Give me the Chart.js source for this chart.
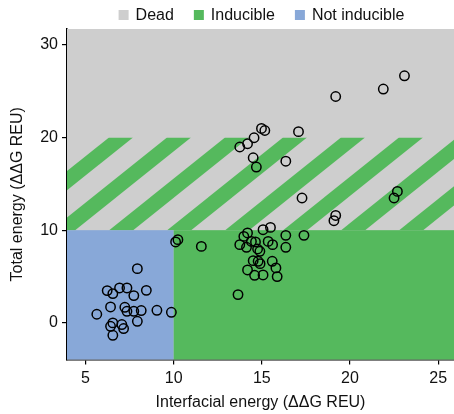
<!DOCTYPE html>
<html>
<head>
<meta charset="utf-8">
<script src="https://cdn.jsdelivr.net/npm/chart.js@4.4.0/dist/chart.umd.min.js"></script>
<style>
  html, body { margin: 0; padding: 0; background: #fff; }
  #wrap { width: 454px; height: 414px; }
</style>
</head>
<body>
<div id="wrap"><canvas id="energyChart" width="454" height="414"></canvas></div>
<script>
// designs with low total energy and low interfacial energy
var lowInterfacial = [7.94, 6.23, 6.55, 6.93, 7.35, 7.74, 8.45, 6.42, 5.64, 7.23, 7.35,
                      7.74, 8.16, 9.05, 9.87, 6.55, 6.42, 7.06, 7.16, 7.94, 6.55];
var lowTotal       = [5.85, 3.48, 3.16, 3.77, 3.77, 2.94, 3.51, 1.72, 0.93, 1.68, 1.25,
                      1.25, 1.33, 1.36, 1.14, 0.00, -0.37, -0.18, -0.61, 0.17, -1.34];

// designs with total energy under ~10 but higher interfacial energy
var midInterfacial = [15.07, 15.49, 14.19, 13.98, 16.36, 17.39, 13.75, 14.13, 14.41, 14.64,
                      14.76, 14.89, 15.36, 15.61, 16.36, 14.51, 14.79, 14.90, 15.59, 15.80,
                      14.19, 14.59, 15.07, 15.87, 13.65, 10.24, 10.11, 11.57];
var midTotal       = [10.05, 10.30, 9.70, 9.33, 9.44, 9.44, 8.44, 8.15, 8.79, 8.73,
                      7.97, 7.72, 8.79, 8.44, 8.15, 6.71, 6.64, 6.39, 6.64, 5.93,
                      5.71, 5.13, 5.17, 4.99, 3.05, 8.98, 8.73, 8.25];

// designs with total energy over 10
var highInterfacial = [14.98, 15.17, 17.08, 14.56, 14.19, 13.75, 14.51, 14.69, 16.36,
                       23.09, 21.89, 19.19, 17.28, 22.69, 22.50, 19.19, 19.09];
var highTotal       = [20.97, 20.75, 20.63, 19.97, 19.32, 18.97, 17.81, 16.81, 17.44,
                       26.65, 25.22, 24.42, 13.47, 14.18, 13.47, 11.59, 11.02];

var xTicks = [5, 10, 15, 20, 25];
var yTicks = [0, 10, 20, 30];
var xRange = [3.95, 25.9];
var yRange = [-3.95, 31.7];

// region boundaries: below 10 total is fine, 10-20 is mixed, above 20 dead
var interfacialCutoff = 10;
var totalCutoffs = [10, 20];

var legendLabels = ['Dead', 'Inducible', 'Not inducible'];
var legendColors = ['#cecece', '#55b95d', '#88a8d8'];

var FONT = '"Liberation Sans", Arial, sans-serif';

function toPoints(xs, ys) {
    return xs.map(function(x, i){ return {x: x, y: ys[i]}; });
}

var regionPlugin = {
    id: 'regions',
    beforeDatasetsDraw: function(chart) {
        var ctx = chart.ctx, a = chart.chartArea;
        var xs = chart.scales.x, ys = chart.scales.y;
        var xCut = xs.getPixelForValue(interfacialCutoff);
        var yLow = ys.getPixelForValue(totalCutoffs[0]);
        var yHigh = ys.getPixelForValue(totalCutoffs[1]);
        var gray = legendColors[0], green = legendColors[1], blue = legendColors[2];

        ctx.save();
        ctx.fillStyle = gray;
        ctx.fillRect(a.left, a.top, a.right - a.left, a.bottom - a.top);
        ctx.fillStyle = blue;
        ctx.fillRect(a.left, yLow, xCut - a.left, a.bottom - yLow);
        ctx.fillStyle = green;
        ctx.fillRect(xCut, yLow, a.right - xCut, a.bottom - yLow);

        // diagonal green stripes over the mixed band
        ctx.beginPath();
        ctx.rect(a.left, yHigh, a.right - a.left, yLow - yHigh);
        ctx.clip();
        var h = yLow - yHigh;
        var shift = h * 1.25;
        var period = 58, w = 24;
        ctx.fillStyle = green;
        for (var x0 = a.left + 42; x0 < a.right + shift; x0 += period) {
            ctx.beginPath();
            ctx.moveTo(x0, yHigh);
            ctx.lineTo(x0 + w, yHigh);
            ctx.lineTo(x0 + w - shift, yLow);
            ctx.lineTo(x0 - shift, yLow);
            ctx.closePath();
            ctx.fill();
        }
        ctx.restore();
    }
};

var legendPlugin = {
    id: 'topLegend',
    afterDraw: function(chart) {
        var ctx = chart.ctx, a = chart.chartArea;
        var box = 10, gap = 7, spacing = 20, cy = 15;
        ctx.save();
        ctx.font = '16px ' + FONT;
        ctx.textBaseline = 'middle';
        var widths = legendLabels.map(function(l){ return ctx.measureText(l).width; });
        var total = widths.reduce(function(s, w){ return s + w + box + gap; }, 0) + spacing * (legendLabels.length - 1);
        var x = (a.left + a.right) / 2 + 1 - total / 2;
        legendLabels.forEach(function(label, i){
            ctx.fillStyle = legendColors[i];
            ctx.fillRect(x, cy - box / 2, box, box);
            ctx.fillStyle = '#111';
            ctx.fillText(label, x + box + gap, cy + 1);
            x += box + gap + widths[i] + spacing;
        });
        ctx.restore();
    }
};

var pointStyle = {
    pointRadius: 4.7,
    pointBorderWidth: 1.5,
    pointBorderColor: '#000',
    pointBackgroundColor: 'rgba(0,0,0,0)',
    showLine: false
};

var energyChart = new Chart(document.getElementById('energyChart'), {
    type: 'scatter',
    data: {
        datasets: [
            Object.assign({label: 'low', data: toPoints(lowInterfacial, lowTotal)}, pointStyle),
            Object.assign({label: 'mid', data: toPoints(midInterfacial, midTotal)}, pointStyle),
            Object.assign({label: 'high', data: toPoints(highInterfacial, highTotal)}, pointStyle)
        ]
    },
    options: {
        responsive: false,
        animation: false,
        events: [],
        layout: { autoPadding: false, padding: { top: 29, right: 0, left: 0, bottom: 0 } },
        plugins: {
            legend: { display: false },
            tooltip: { enabled: false }
        },
        scales: {
            x: {
                type: 'linear',
                min: xRange[0],
                max: xRange[1],
                afterBuildTicks: function(s){ s.ticks = xTicks.map(function(v){ return {value: v}; }); },
                afterFit: function(s){ s.height = 54.5; s.paddingRight = 0; s.paddingLeft = 0; },
                border: { display: true, color: '#000', width: 1.5 },
                grid: { drawOnChartArea: false, drawTicks: true, tickLength: 5, color: '#000', lineWidth: 1.2 },
                ticks: { color: '#111', font: { size: 16, family: FONT }, padding: 4, maxRotation: 0 },
                title: {
                    display: true,
                    text: 'Interfacial energy (ΔΔG REU)',
                    color: '#111',
                    font: { size: 16, family: FONT },
                    padding: { top: 2, bottom: 1.5 }
                }
            },
            y: {
                type: 'linear',
                min: yRange[0],
                max: yRange[1],
                afterBuildTicks: function(s){ s.ticks = yTicks.map(function(v){ return {value: v}; }); },
                afterFit: function(s){ s.width = 67; s.paddingTop = 0; s.paddingBottom = 0; },
                border: { display: true, color: '#000', width: 1.5 },
                grid: { drawOnChartArea: false, drawTicks: true, tickLength: 5, color: '#000', lineWidth: 1.2 },
                ticks: { color: '#111', font: { size: 16, family: FONT }, padding: 4 },
                title: {
                    display: true,
                    text: 'Total energy (ΔΔG REU)',
                    color: '#111',
                    font: { size: 16, family: FONT },
                    padding: { top: 8, bottom: 0 }
                }
            }
        }
    },
    plugins: [regionPlugin, legendPlugin]
});
</script>
</body>
</html>
